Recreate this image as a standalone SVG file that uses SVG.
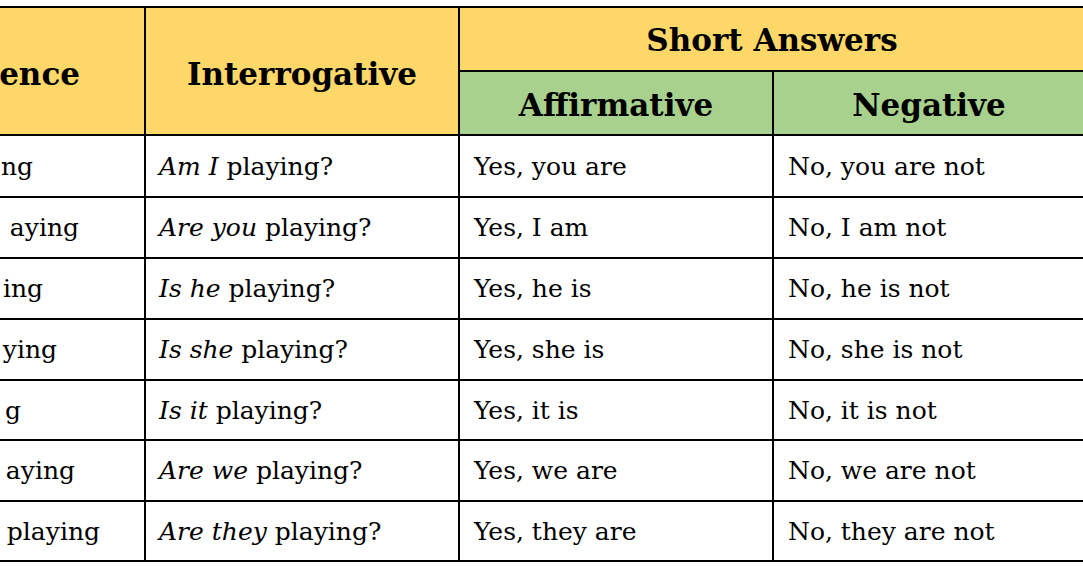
<svg xmlns="http://www.w3.org/2000/svg" width="1083" height="569" viewBox="0 0 1083 569">
<style>
.h{font-family:"DejaVu Serif",serif;font-weight:bold;font-size:31px;fill:#000}
.t{font-family:"DejaVu Serif",serif;font-size:25px;fill:#000}
.i{font-style:italic}
.g{stroke:#000;stroke-width:2;fill:none}
</style>
<rect x="0" y="0" width="1083" height="569" fill="#fff"/>
<rect x="0" y="7" width="1083" height="128" fill="#FDD868"/>
<rect x="459" y="71" width="624" height="64" fill="#A8D18D"/>
<g id="grid" class="g">
<path d="M0 7H1083M459 71H1083M0 135H1083M0 197H1083M0 258H1083M0 319H1083M0 380H1083M0 440H1083M0 501H1083M0 561H1083"/>
<path d="M145 7V561M459 7V561M773 71V561"/>
</g>
<g id="header">
<text class="h" x="80" y="85" text-anchor="end">ence</text>
<text class="h" x="302" y="85" text-anchor="middle">Interrogative</text>
<text class="h" x="772" y="51" text-anchor="middle">Short Answers</text>
<text class="h" x="616" y="116" text-anchor="middle">Affirmative</text>
<text class="h" x="929" y="116" text-anchor="middle">Negative</text>
</g>
<g id="col1" class="t" text-anchor="end">
<text x="33" y="175">ng</text>
<text x="79" y="236">aying</text>
<text x="43" y="297">ing</text>
<text x="57" y="358">ying</text>
<text x="21" y="419">g</text>
<text x="75" y="479">aying</text>
<text x="100" y="540">playing</text>
</g>
<g id="col2" class="t">
<text x="159" y="175"><tspan class="i">Am I</tspan> playing?</text>
<text x="159" y="236"><tspan class="i">Are you</tspan> playing?</text>
<text x="159" y="297"><tspan class="i">Is he</tspan> playing?</text>
<text x="159" y="358"><tspan class="i">Is she</tspan> playing?</text>
<text x="159" y="419"><tspan class="i">Is it</tspan> playing?</text>
<text x="159" y="479"><tspan class="i">Are we</tspan> playing?</text>
<text x="159" y="540"><tspan class="i">Are they</tspan> playing?</text>
</g>
<g id="col3" class="t">
<text x="474" y="175">Yes, you are</text>
<text x="474" y="236">Yes, I am</text>
<text x="474" y="297">Yes, he is</text>
<text x="474" y="358">Yes, she is</text>
<text x="474" y="419">Yes, it is</text>
<text x="474" y="479">Yes, we are</text>
<text x="474" y="540">Yes, they are</text>
</g>
<g id="col4" class="t">
<text x="788" y="175">No, you are not</text>
<text x="788" y="236">No, I am not</text>
<text x="788" y="297">No, he is not</text>
<text x="788" y="358">No, she is not</text>
<text x="788" y="419">No, it is not</text>
<text x="788" y="479">No, we are not</text>
<text x="788" y="540">No, they are not</text>
</g>
</svg>
